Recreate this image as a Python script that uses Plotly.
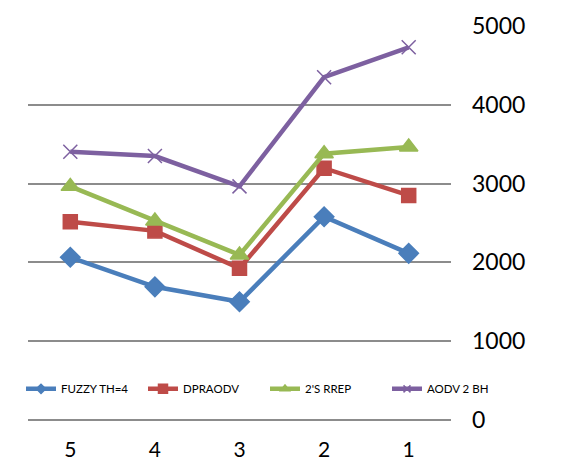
import plotly.graph_objects as go

categories = ["5", "4", "3", "2", "1"]
fuzzy = [2065, 1690, 1500, 2580, 2115]
dpraodv = [2515, 2400, 1925, 3195, 2850]
srrep = [2965, 2525, 2095, 3380, 3465]
aodv2bh = [3405, 3350, 2965, 4350, 4730]
y_ticks = [0, 1000, 2000, 3000, 4000, 5000]

series = [
    ("FUZZY TH=4", fuzzy, "#4A7EBB", "diamond", 15, 7),
    ("DPRAODV", dpraodv, "#BE4B48", "square", 14, 9),
    ("2'S RREP", srrep, "#98B954", "triangle-up", 16, 8),
    ("AODV 2 BH", aodv2bh, "#7D60A0", "x-thin-open", 14, 7),
]

fig = go.Figure()
for name, vals, color, sym, size, lsize in series:
    fig.add_trace(go.Scatter(
        x=categories, y=vals, name=name, mode="lines+markers",
        line=dict(color=color, width=4.5), showlegend=False,
        marker=dict(symbol=sym, size=size, color=color,
                    line=dict(color=color, width=1.5)),
    ))
for name, vals, color, sym, size, lsize in series:
    fig.add_trace(go.Scatter(
        x=[None], y=[None], name=name, mode="lines+markers",
        line=dict(color=color, width=4.5), showlegend=True,
        marker=dict(symbol=sym, size=lsize, color=color,
                    line=dict(color=color, width=1.5)),
    ))

W, H = 572, 457
fig.update_layout(
    width=W, height=H,
    margin=dict(l=0, r=0, t=18, b=45),
    plot_bgcolor="white", paper_bgcolor="white",
    font=dict(family="Lato, Open Sans, sans-serif", color="black"),
    showlegend=True,
    legend=dict(orientation="h", x=13 / W, y=0.079, xanchor="left", yanchor="middle",
                font=dict(size=11.5), bgcolor="rgba(0,0,0,0)",
                itemwidth=30, tracegroupgap=0,
                entrywidthmode="pixels", entrywidth=77),
    xaxis=dict(type="category", range=[-0.5, 4.5], showgrid=False,
               domain=[20 / W, 443 / W],
               showline=False, zeroline=False, ticks="", automargin=False,
               tickfont=dict(size=21), ticklabelstandoff=15),
    yaxis=dict(side="right", range=[0, 5000], tickvals=y_ticks, automargin=False,
               showgrid=True, gridcolor="#8C8C8C", gridwidth=1.5,
               zeroline=True, zerolinecolor="#8C8C8C", zerolinewidth=1.5,
               showline=False, ticks="", tickfont=dict(size=23),
               ticklabelstandoff=20),
)

fig.write_html("out.html")
